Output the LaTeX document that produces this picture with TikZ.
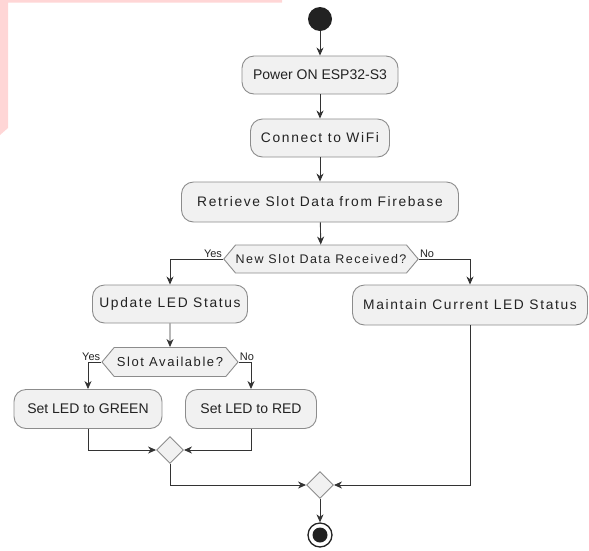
\documentclass[tikz,border=0pt]{standalone}
\usepackage{fontspec}
\setmainfont{Liberation Sans}
\newfontfamily\spacedfont[LetterSpace=12]{Liberation Sans}
\usetikzlibrary{arrows.meta,shapes.symbols,shapes.geometric}

\definecolor{boxfill}{HTML}{F1F1F1}
\definecolor{boxline}{HTML}{8C8C8C}
\definecolor{flowline}{HTML}{333333}
\definecolor{inkdark}{HTML}{222222}
\definecolor{cropmark}{HTML}{FFD6D6}

\tikzset{
  action/.style={draw=boxline, fill=boxfill, rounded corners=12pt, line width=0.9pt,
    minimum height=38pt, inner sep=0pt, text=inkdark, font=\fontsize{14}{16}\selectfont},
  wide/.style={font=\fontsize{13.8}{16}\spacedfont},
  decision/.style={signal, signal to=east and west, signal pointer angle=100,
    draw=boxline, fill=boxfill, line width=0.9pt, minimum height=28pt, inner sep=0pt,
    text=inkdark, font=\fontsize{12.5}{14}\spacedfont},
  merge/.style={diamond, draw=boxline, fill=boxfill, line width=0.9pt, inner sep=0pt,
    minimum width=27pt, minimum height=27pt},
  startdot/.style={circle, fill=inkdark, inner sep=0pt, minimum size=24pt},
  stopring/.style={circle, draw=inkdark, fill=white, line width=1.3pt, inner sep=0pt, minimum size=24pt},
  stopdot/.style={circle, fill=inkdark, inner sep=0pt, minimum size=15pt},
  lbl/.style={inner sep=0.8pt, text=inkdark, font=\fontsize{11}{12}\selectfont},
  flow/.style={draw=flowline, line width=0.9pt}
}

\begin{document}
\begin{tikzpicture}[x=1pt, y=-1pt, >={Stealth[length=8pt,width=7pt,inset=2.5pt]}]
  \useasboundingbox (0,0) rectangle (589,550);
  % pink strip left over at the top left corner
  \fill[cropmark] (0,0) -- (282,0) -- (282,2.5) -- (8,2.5) -- (8,128) -- (0,135) -- cycle;

  \node[startdot] (start) at (320,19) {};
  \node[action, minimum width=156pt] (power) at (320,75) {Power ON ESP32-S3};
  \node[action, wide, minimum width=139pt] (wifi) at (320,138) {Connect to WiFi};
  \node[action, wide, minimum width=277pt, minimum height=40pt] (fetch) at (320,202) {Retrieve Slot Data from Firebase};
  \node[decision, minimum width=192pt] (newdata) at (321,259) {New Slot Data Received?};
  \node[action, wide, minimum width=155pt] (update) at (170,304) {Update LED Status};
  \node[action, wide, minimum width=235pt, minimum height=40pt] (keep) at (470,305) {Maintain Current LED Status};
  \node[decision, minimum width=136pt, minimum height=29pt, font=\fontsize{13}{14}\spacedfont] (avail) at (170,362) {Slot Available?};
  \node[action, minimum width=148pt, minimum height=39pt] (green) at (88,409) {Set LED to GREEN};
  \node[action, minimum width=131pt, minimum height=39pt] (red) at (251,409) {Set LED to RED};
  \node[merge] (join) at (170,450) {};
  \node[merge] (joinall) at (320,485) {};
  \node[stopring] (stop) at (320,535) {};
  \node[stopdot] (stopcore) at (stop) {};

  % main line
  \draw[flow, ->] (start) -- (power);
  \draw[flow, ->] (power) -- (wifi);
  \draw[flow, ->] (wifi) -- (fetch);
  \draw[flow, ->] (fetch) -- (newdata);

  % first decision
  \draw[flow, ->] (newdata.west) -| (update.north) node[pos=0, above left, lbl] {Yes};
  \draw[flow, ->] (newdata.east) -| (keep.north) node[pos=0, above right, lbl] {No};
  \draw[flow, ->] (update) -- (avail);

  % second decision
  \draw[flow, ->] (avail.west) -| (green.north) node[pos=0, above left, lbl] {Yes};
  \draw[flow, ->] (avail.east) -| (red.north) node[pos=0, above right, lbl] {No};

  % merging
  \draw[flow, ->] (green.south) |- (join.west);
  \draw[flow, ->] (red.south) |- (join.east);
  \draw[flow, ->] (join.south) |- (joinall.west);
  \draw[flow, ->] (keep.south) |- (joinall.east);
  \draw[flow, ->] (joinall) -- (stop);
\end{tikzpicture}
\end{document}
